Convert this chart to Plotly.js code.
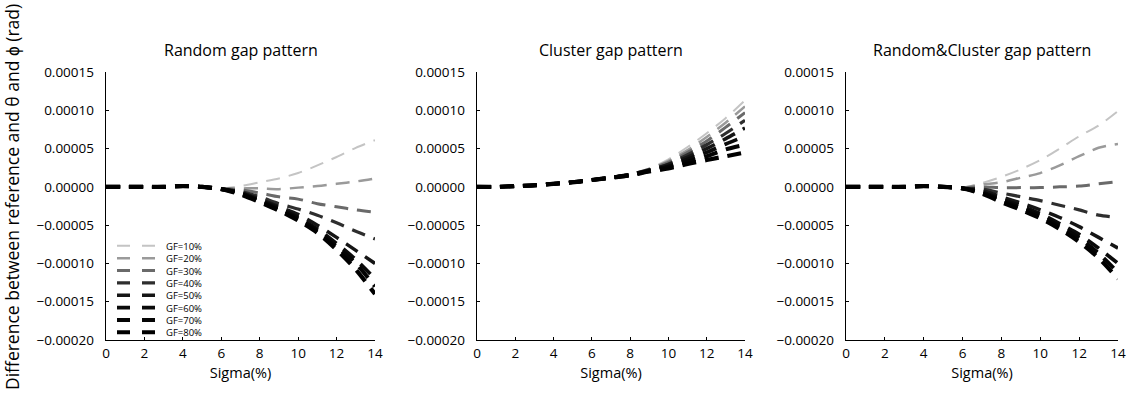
<!DOCTYPE html>
<html>
<head>
<meta charset="utf-8">
<script src="https://cdn.plot.ly/plotly-3.0.1.min.js"></script>
<style>html,body{margin:0;padding:0;background:#fff;}#chart{width:1128px;height:394px;}</style>
</head>
<body>
<div id="chart"></div>
<script>
// ---- data ----
var sigma = [0,1,2,3,4,5,6,7,8,9,10,11,12,13,14];
var gfLabels = ["GF=10%","GF=20%","GF=30%","GF=40%","GF=50%","GF=60%","GF=70%","GF=80%"];
var panelTitles = ["Random gap pattern","Cluster gap pattern","Random&Cluster gap pattern"];
var xTickVals = [0,2,4,6,8,10,12,14];
var yTickVals = [-0.0002,-0.00015,-0.0001,-0.00005,0,0.00005,0.0001,0.00015];

var randomGF10 = [0,0,0,0,0.000001,0,-0.000002,0.000001,0.000006,0.000011,0.000018,0.000028,0.000039,0.000051,0.000061];
var randomGF20 = [0,0,0,0,0.000001,0,-0.000002,-0.000002,-0.000002,-0.000003,-0.000001,0.000001,0.000004,0.000007,0.000011];
var randomGF30 = [0,0,0,0,0.000001,0,-0.000002,-0.000004,-0.000008,-0.000013,-0.000016,-0.000022,-0.000026,-0.00003,-0.000033];
var randomGF40 = [0,0,0,0,0.000001,0,-0.000003,-0.000006,-0.000013,-0.000022,-0.000029,-0.000037,-0.000047,-0.000058,-0.000068];
var randomGF50 = [0,0,0,0,0.000001,0,-0.000003,-0.000007,-0.000016,-0.000026,-0.000036,-0.00005,-0.000066,-0.000083,-0.0001];
var randomGF60 = [0,0,0,0,0.000001,0,-0.000003,-0.000008,-0.000018,-0.000028,-0.00004,-0.000055,-0.000074,-0.000095,-0.00012];
var randomGF70 = [0,0,0,0,0.000001,0,-0.000003,-0.000009,-0.000019,-0.00003,-0.000042,-0.000058,-0.000078,-0.0001,-0.00013];
var randomGF80 = [0,0,0,0,0.000001,0,-0.000003,-0.00001,-0.00002,-0.000031,-0.000044,-0.00006,-0.000082,-0.000108,-0.00014];

var clusterGF10 = [0,0,0.000001,0.000002,0.000004,0.000006,0.000009,0.000012,0.000017,0.000024,0.000036,0.000052,0.00007,0.00009,0.000113];
var clusterGF20 = [0,0,0.000001,0.000002,0.000004,0.000006,0.000009,0.000012,0.000017,0.000023,0.000034,0.000048,0.000065,0.000084,0.000105];
var clusterGF30 = [0,0,0.000001,0.000002,0.000004,0.000006,0.000009,0.000012,0.000016,0.000023,0.000032,0.000045,0.00006,0.000078,0.000097];
var clusterGF40 = [0,0,0.000001,0.000002,0.000004,0.000006,0.000009,0.000012,0.000016,0.000022,0.00003,0.000042,0.000055,0.00007,0.000087];
var clusterGF50 = [0,0,0.000001,0.000002,0.000004,0.000006,0.000009,0.000012,0.000016,0.000022,0.000029,0.000039,0.00005,0.000063,0.000077];
var clusterGF60 = [0,0,0.000001,0.000002,0.000004,0.000006,0.000009,0.000012,0.000016,0.000021,0.000027,0.000036,0.000045,0.000056,0.000066];
var clusterGF70 = [0,0,0.000001,0.000002,0.000004,0.000006,0.000009,0.000012,0.000015,0.000021,0.000026,0.000033,0.00004,0.000049,0.000055];
var clusterGF80 = [0,0,0.000001,0.000002,0.000004,0.000006,0.000009,0.000012,0.000015,0.00002,0.000024,0.00003,0.000035,0.00004,0.000045];

var mixedGF10 = [0,0,0,0,0.000001,0,-0.000001,0.000005,0.000013,0.000023,0.000035,0.00005,0.000066,0.00008,0.000099];
var mixedGF20 = [0,0,0,0,0.000001,0,-0.000001,0.000003,0.000006,0.000012,0.000018,0.000028,0.00004,0.000051,0.000056];
var mixedGF30 = [0,0,0,0,0.000001,0,-0.000001,0,-0.000001,-0.000001,-0.000001,0,0.000001,0.000004,0.000007];
var mixedGF40 = [0,0,0,0,0.000001,0,-0.000002,-0.000003,-0.000008,-0.000013,-0.000018,-0.000024,-0.00003,-0.000037,-0.00004];
var mixedGF50 = [0,0,0,0,0.000001,0,-0.000002,-0.000005,-0.000013,-0.000021,-0.00003,-0.00004,-0.000052,-0.000066,-0.00008];
var mixedGF60 = [0,0,0,0,0.000001,0,-0.000002,-0.000007,-0.000016,-0.000025,-0.000035,-0.000048,-0.000062,-0.00008,-0.0001];
var mixedGF70 = [0,0,0,0,0.000001,0,-0.000002,-0.000008,-0.000018,-0.000028,-0.000038,-0.000052,-0.000067,-0.000087,-0.000112];
var mixedGF80 = [0,0,0,0,0.000001,0,-0.000002,-0.000009,-0.00002,-0.00003,-0.000041,-0.000055,-0.000072,-0.000093,-0.00012];

var panels = [
  [randomGF10,randomGF20,randomGF30,randomGF40,randomGF50,randomGF60,randomGF70,randomGF80],
  [clusterGF10,clusterGF20,clusterGF30,clusterGF40,clusterGF50,clusterGF60,clusterGF70,clusterGF80],
  [mixedGF10,mixedGF20,mixedGF30,mixedGF40,mixedGF50,mixedGF60,mixedGF70,mixedGF80]
];

// ---- styles ----
var colors = ["#c4c4c4","#9a9a9a","#6a6a6a","#2e2e2e","#151515","#0a0a0a","#040404","#000000"];
var widths = [2,2.5,3,3.2,3.5,3.7,4,4.2];
var DASH = "14px,9px";
var FONT = "Open Sans, sans-serif";

var W = 1128, H = 394;
var xPix = [[106,375],[477,745],[846,1118]];
var yTop = 72, yBot = 340;

var traces = [];
panels.forEach(function(series, p){
  series.forEach(function(vals, i){
    traces.push({
      x: sigma, y: vals, type: "scatter", mode: "lines",
      name: gfLabels[i], showlegend: false,
      xaxis: p === 0 ? "x" : "x" + (p+1),
      yaxis: p === 0 ? "y" : "y" + (p+1),
      line: {color: colors[i], width: widths[i], dash: DASH, shape: "spline", smoothing: 0.8},
      hoverinfo: "skip"
    });
  });
});

var layout = {
  width: W, height: H,
  margin: {l:0, r:0, t:0, b:0},
  paper_bgcolor: "#fff", plot_bgcolor: "#fff",
  font: {family: FONT, color: "#000", size: 13},
  showlegend: false,
  annotations: [], shapes: []
};

for (var p = 0; p < 3; p++) {
  var sx = p === 0 ? "" : String(p+1);
  layout["xaxis" + sx] = {
    domain: [xPix[p][0]/W, xPix[p][1]/W],
    anchor: "y" + sx,
    range: [0, 14], tickvals: xTickVals, ticktext: xTickVals.map(String),
    showline: true, linecolor: "#000", linewidth: 1.3, mirror: false,
    ticks: "inside", ticklen: 3, tickcolor: "#000", tickwidth: 1,
    showgrid: false, zeroline: false,
    tickfont: {family: FONT, size: 13.5, color: "#000"},
    title: {text: "Sigma(%)", font: {family: FONT, size: 14.5, color: "#000"}, standoff: 7},
    automargin: false, fixedrange: true
  };
  layout["yaxis" + sx] = {
    domain: [1 - yBot/H, 1 - yTop/H],
    anchor: "x" + sx,
    range: [-0.0002, 0.00015], tickvals: yTickVals,
    tickformat: ".5f",
    showline: true, linecolor: "#000", linewidth: 1.3,
    ticks: "inside", ticklen: 3, tickcolor: "#000", tickwidth: 1,
    showgrid: false, zeroline: false,
    tickfont: {family: FONT, size: 13.5, color: "#000"},
    ticklabelstandoff: 8,
    automargin: false, fixedrange: true
  };
  layout.annotations.push({
    text: panelTitles[p], xref: "x" + sx + " domain", yref: "paper",
    x: 0.5, y: 1 - 50/H, xanchor: "center", yanchor: "middle",
    showarrow: false, font: {family: FONT, size: 16, color: "#000"}
  });
}

// y-axis title
layout.annotations.push({
  text: "Difference between reference and \u03b8 and \u03d5 (rad)",
  xref: "paper", yref: "paper", x: 12/W, y: 1 - 197/H,
  xanchor: "center", yanchor: "middle", textangle: -90,
  showarrow: false, font: {family: FONT, size: 17.5, color: "#000"}
});

// legend (panel 1): one multi-line text block, dashed samples beside each row
var legFont = 9.5, legDy = legFont * 1.3, legMid = 289;
var legX0 = 117, legX1 = 155, legText = 164;
layout.annotations.push({
  text: gfLabels.join("<br>"), xref: "paper", yref: "paper",
  x: legText/W, y: 1 - legMid/H, xanchor: "left", yanchor: "middle", align: "left",
  showarrow: false, font: {family: FONT, size: legFont, color: "#000"}
});
gfLabels.forEach(function(lbl, i){
  var yy = 1 - (legMid + (i - 3.5) * legDy)/H;
  layout.shapes.push({
    type: "line", xref: "paper", yref: "paper",
    x0: legX0/W, x1: legX1/W, y0: yy, y1: yy,
    line: {color: colors[i], width: widths[i], dash: "13px,12px"}
  });
});

Plotly.newPlot("chart", traces, layout, {displayModeBar: false, staticPlot: true});
</script>
</body>
</html>
